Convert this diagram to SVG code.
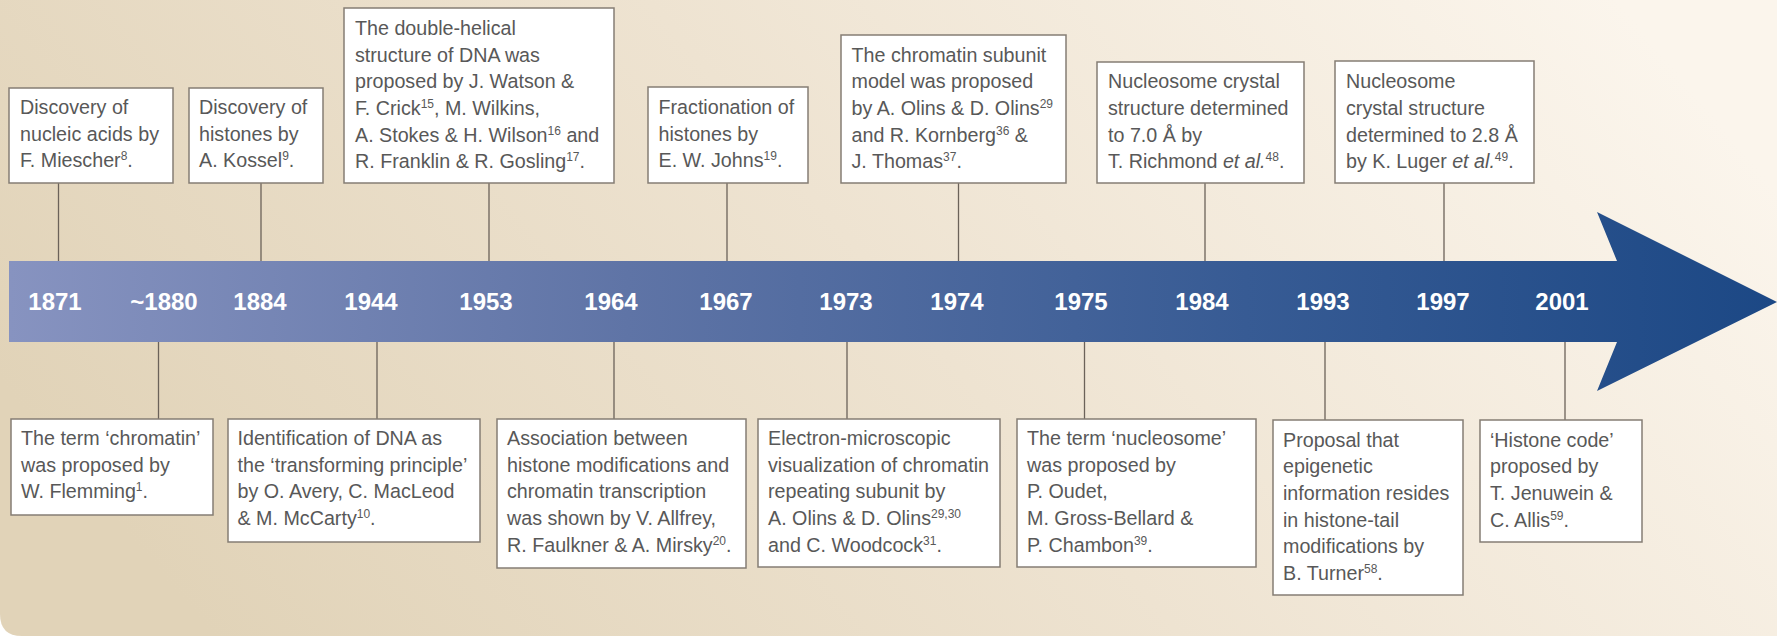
<svg xmlns="http://www.w3.org/2000/svg" width="1777" height="636" viewBox="0 0 1777 636">
<style>
.box{fill:#ffffff;stroke:#857d74;stroke-width:1.5}
.t{font-family:"Liberation Sans",Arial,sans-serif;font-size:19.7px;fill:#585858}
.sup{font-size:12px}
.yr{font-family:"Liberation Sans",Arial,sans-serif;font-size:24px;font-weight:bold;fill:#ffffff;text-anchor:middle}
.con line{stroke:#6b6259;stroke-width:1.3}
</style>
<defs>
<linearGradient id="bg" x1="0" y1="0.6" x2="1" y2="0.3">
<stop offset="0" stop-color="#e1d3b8"/>
<stop offset="0.5" stop-color="#eee3d1"/>
<stop offset="1" stop-color="#fbf5ec"/>
</linearGradient>
<linearGradient id="bar" x1="0" y1="0" x2="1" y2="0">
<stop offset="0" stop-color="#8793c0"/>
<stop offset="0.35" stop-color="#5f74a6"/>
<stop offset="0.7" stop-color="#375b94"/>
<stop offset="1" stop-color="#1c4885"/>
</linearGradient>
</defs>
<rect width="1777" height="636" fill="#ffffff"/>
<path d="M0 0 H1777 V636 H22 Q0 636 0 614 Z" fill="url(#bg)"/>
<g id="timeline">
<polygon points="9,261 1617,261 1597,212 1777,302 1597,391 1617,342 9,342" fill="url(#bar)"/>
<text class="yr" x="55" y="310">1871</text>
<text class="yr" x="164" y="310">~1880</text>
<text class="yr" x="260" y="310">1884</text>
<text class="yr" x="371" y="310">1944</text>
<text class="yr" x="486" y="310">1953</text>
<text class="yr" x="611" y="310">1964</text>
<text class="yr" x="726" y="310">1967</text>
<text class="yr" x="846" y="310">1973</text>
<text class="yr" x="957" y="310">1974</text>
<text class="yr" x="1081" y="310">1975</text>
<text class="yr" x="1202" y="310">1984</text>
<text class="yr" x="1323" y="310">1993</text>
<text class="yr" x="1443" y="310">1997</text>
<text class="yr" x="1562" y="310">2001</text>
</g>
<g id="connectors" class="con">
<line x1="58.5" y1="183" x2="58.5" y2="261"/>
<line x1="261" y1="183" x2="261" y2="261"/>
<line x1="489" y1="183" x2="489" y2="261"/>
<line x1="727" y1="183" x2="727" y2="261"/>
<line x1="958.5" y1="183" x2="958.5" y2="261"/>
<line x1="1205" y1="183" x2="1205" y2="261"/>
<line x1="1444" y1="183" x2="1444" y2="261"/>
<line x1="158.5" y1="342" x2="158.5" y2="419"/>
<line x1="377" y1="342" x2="377" y2="419"/>
<line x1="614" y1="342" x2="614" y2="419"/>
<line x1="847" y1="342" x2="847" y2="419"/>
<line x1="1084.5" y1="342" x2="1084.5" y2="419"/>
<line x1="1325" y1="342" x2="1325" y2="420"/>
<line x1="1565" y1="342" x2="1565" y2="420"/>
</g>
<g id="n1871">
<rect class="box" x="9" y="88" width="164" height="95"/>
<text class="t" x="20" y="114">Discovery of</text>
<text class="t" x="20" y="140.7">nucleic acids by</text>
<text class="t" x="20" y="167.3">F. Miescher<tspan class="sup" dy="-7">8</tspan><tspan dy="7">.</tspan></text>
</g>
<g id="n1884">
<rect class="box" x="189" y="88" width="134" height="95"/>
<text class="t" x="199" y="114">Discovery of</text>
<text class="t" x="199" y="140.7">histones by</text>
<text class="t" x="199" y="167.3">A. Kossel<tspan class="sup" dy="-7">9</tspan><tspan dy="7">.</tspan></text>
</g>
<g id="n1953">
<rect class="box" x="344" y="8" width="270" height="175"/>
<text class="t" x="355" y="35">The double-helical</text>
<text class="t" x="355" y="61.7">structure of DNA was</text>
<text class="t" x="355" y="88.3">proposed by J. Watson &amp;</text>
<text class="t" x="355" y="115">F. Crick<tspan class="sup" dy="-7">15</tspan><tspan dy="7">, M. Wilkins,</tspan></text>
<text class="t" x="355" y="141.7">A. Stokes &amp; H. Wilson<tspan class="sup" dy="-7">16</tspan><tspan dy="7"> and</tspan></text>
<text class="t" x="355" y="168.3">R. Franklin &amp; R. Gosling<tspan class="sup" dy="-7">17</tspan><tspan dy="7">.</tspan></text>
</g>
<g id="n1967">
<rect class="box" x="648" y="87" width="160" height="96"/>
<text class="t" x="658.5" y="114">Fractionation of</text>
<text class="t" x="658.5" y="140.7">histones by</text>
<text class="t" x="658.5" y="167.3">E. W. Johns<tspan class="sup" dy="-7">19</tspan><tspan dy="7">.</tspan></text>
</g>
<g id="n1974">
<rect class="box" x="841" y="35" width="225" height="148"/>
<text class="t" x="851.5" y="61.7">The chromatin subunit</text>
<text class="t" x="851.5" y="88.3">model was proposed</text>
<text class="t" x="851.5" y="115">by A. Olins &amp; D. Olins<tspan class="sup" dy="-7">29</tspan></text>
<text class="t" x="851.5" y="141.7">and R. Kornberg<tspan class="sup" dy="-7">36</tspan><tspan dy="7"> &amp;</tspan></text>
<text class="t" x="851.5" y="168.3">J. Thomas<tspan class="sup" dy="-7">37</tspan><tspan dy="7">.</tspan></text>
</g>
<g id="n1984">
<rect class="box" x="1097" y="62" width="207" height="121"/>
<text class="t" x="1108" y="88.3">Nucleosome crystal</text>
<text class="t" x="1108" y="115">structure determined</text>
<text class="t" x="1108" y="141.7">to 7.0 Å by</text>
<text class="t" x="1108" y="168.3">T. Richmond <tspan font-style="italic">et al.</tspan><tspan class="sup" dy="-7">48</tspan><tspan dy="7">.</tspan></text>
</g>
<g id="n1997">
<rect class="box" x="1335" y="61" width="199" height="122"/>
<text class="t" x="1346" y="88.3">Nucleosome</text>
<text class="t" x="1346" y="115">crystal structure</text>
<text class="t" x="1346" y="141.7">determined to 2.8 Å</text>
<text class="t" x="1346" y="168.3">by K. Luger <tspan font-style="italic">et al.</tspan><tspan class="sup" dy="-7">49</tspan><tspan dy="7">.</tspan></text>
</g>
<g id="n1880">
<rect class="box" x="11" y="419" width="202" height="96"/>
<text class="t" x="21" y="445">The term ‘chromatin’</text>
<text class="t" x="21" y="471.7">was proposed by</text>
<text class="t" x="21" y="498.3">W. Flemming<tspan class="sup" dy="-7">1</tspan><tspan dy="7">.</tspan></text>
</g>
<g id="n1944">
<rect class="box" x="228" y="419" width="252" height="123"/>
<text class="t" x="237.5" y="445">Identification of DNA as</text>
<text class="t" x="237.5" y="471.7">the ‘transforming principle’</text>
<text class="t" x="237.5" y="498.3">by O. Avery, C. MacLeod</text>
<text class="t" x="237.5" y="525">&amp; M. McCarty<tspan class="sup" dy="-7">10</tspan><tspan dy="7">.</tspan></text>
</g>
<g id="n1964">
<rect class="box" x="497" y="419" width="249" height="149"/>
<text class="t" x="507" y="445">Association between</text>
<text class="t" x="507" y="471.7">histone modifications and</text>
<text class="t" x="507" y="498.3">chromatin transcription</text>
<text class="t" x="507" y="525">was shown by V. Allfrey,</text>
<text class="t" x="507" y="551.7">R. Faulkner &amp; A. Mirsky<tspan class="sup" dy="-7">20</tspan><tspan dy="7">.</tspan></text>
</g>
<g id="n1973">
<rect class="box" x="758" y="419" width="242" height="148"/>
<text class="t" x="768" y="445">Electron-microscopic</text>
<text class="t" x="768" y="471.7">visualization of chromatin</text>
<text class="t" x="768" y="498.3">repeating subunit by</text>
<text class="t" x="768" y="525">A. Olins &amp; D. Olins<tspan class="sup" dy="-7">29,30</tspan></text>
<text class="t" x="768" y="551.7">and C. Woodcock<tspan class="sup" dy="-7">31</tspan><tspan dy="7">.</tspan></text>
</g>
<g id="n1975">
<rect class="box" x="1017" y="419" width="239" height="148"/>
<text class="t" x="1027" y="445">The term ‘nucleosome’</text>
<text class="t" x="1027" y="471.7">was proposed by</text>
<text class="t" x="1027" y="498.3">P. Oudet,</text>
<text class="t" x="1027" y="525">M. Gross-Bellard &amp;</text>
<text class="t" x="1027" y="551.7">P. Chambon<tspan class="sup" dy="-7">39</tspan><tspan dy="7">.</tspan></text>
</g>
<g id="n1993">
<rect class="box" x="1273" y="420" width="190" height="175"/>
<text class="t" x="1283" y="446.5">Proposal that</text>
<text class="t" x="1283" y="473.2">epigenetic</text>
<text class="t" x="1283" y="499.8">information resides</text>
<text class="t" x="1283" y="526.5">in histone-tail</text>
<text class="t" x="1283" y="553.2">modifications by</text>
<text class="t" x="1283" y="579.8">B. Turner<tspan class="sup" dy="-7">58</tspan><tspan dy="7">.</tspan></text>
</g>
<g id="n2001">
<rect class="box" x="1480" y="420" width="162" height="122"/>
<text class="t" x="1490" y="446.5">‘Histone code’</text>
<text class="t" x="1490" y="473.2">proposed by</text>
<text class="t" x="1490" y="499.8">T. Jenuwein &amp;</text>
<text class="t" x="1490" y="526.5">C. Allis<tspan class="sup" dy="-7">59</tspan><tspan dy="7">.</tspan></text>
</g>
</svg>
